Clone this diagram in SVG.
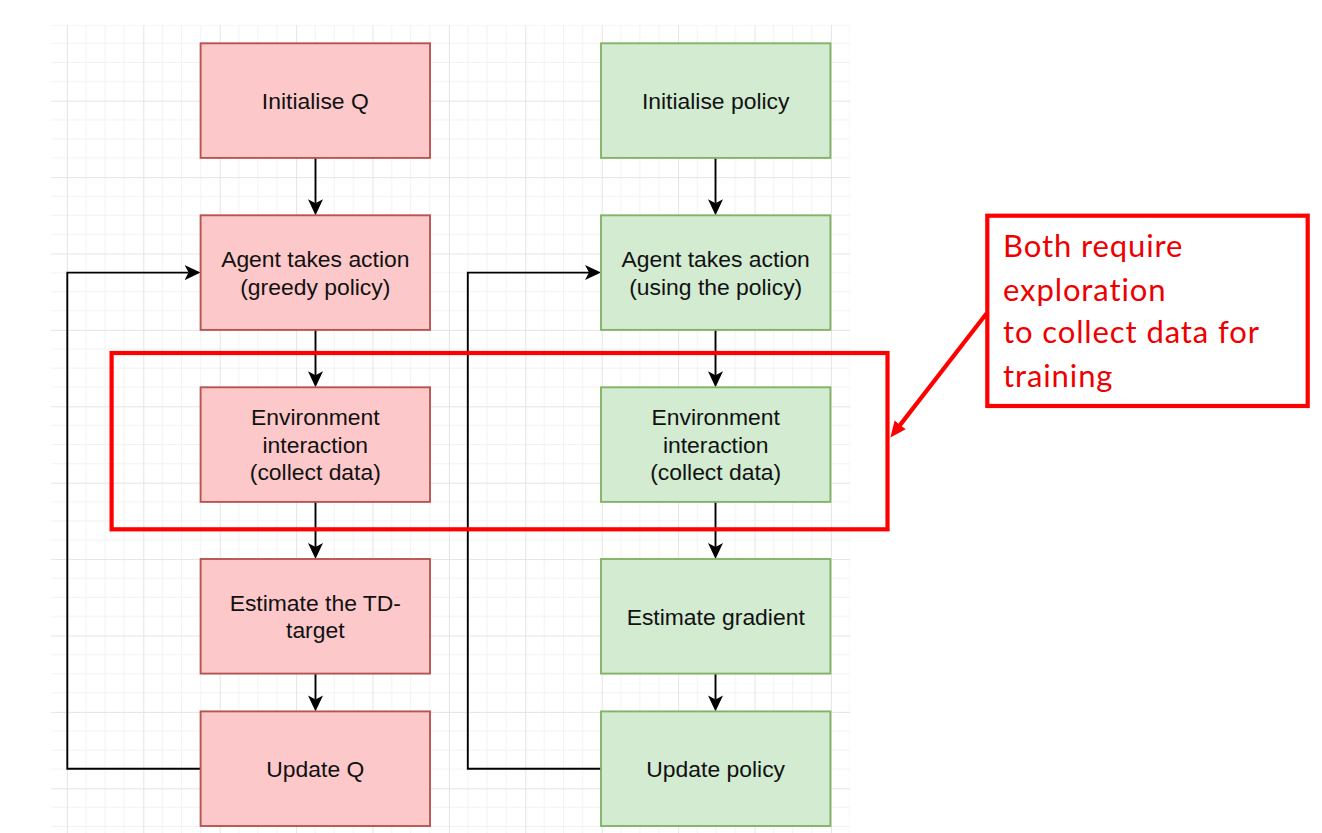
<svg xmlns="http://www.w3.org/2000/svg" width="1322" height="833" viewBox="0 0 1322 833">
  <style>
    .red rect { fill: #fcc8c9; stroke: #b85450; stroke-width: 1.9; }
    .green rect { fill: #d2ebd1; stroke: #82b366; stroke-width: 1.9; }
    .node text { font-family: "Liberation Sans", Arial, sans-serif; font-size: 22.9px; fill: #111111; text-anchor: middle; }
    .conn { fill: none; stroke: #000000; stroke-width: 1.9; }
    .note { fill: none; stroke: #ff0000; stroke-width: 4.2; }
    .note-text { font-family: Lato, "Noto Sans", sans-serif; font-size: 31px; letter-spacing: 0.9px; fill: #ee0000; }
  </style>
  <defs>
    <pattern id="grid" x="143.3" y="100.7" width="76.4" height="76.4" patternUnits="userSpaceOnUse">
      <path d="M19.1,0 V76.4 M38.2,0 V76.4 M57.3,0 V76.4 M0,19.1 H76.4 M0,38.2 H76.4 M0,57.3 H76.4" stroke="#f2f2f2" stroke-width="1" fill="none"/>
      <path d="M0.5,0 V76.4 M0,0.5 H76.4" stroke="#e4e4e4" stroke-width="1" fill="none"/>
    </pattern>
    <marker id="arrow" viewBox="0 0 16 16" refX="4" refY="8" markerWidth="16" markerHeight="16" markerUnits="userSpaceOnUse" orient="auto">
      <path d="M0,0.5 L16,8 L0,15.5 L4,8 Z" fill="#000000"/>
    </marker>
    <marker id="redarrow" viewBox="0 0 16 16" refX="6" refY="8" markerWidth="16" markerHeight="16" markerUnits="userSpaceOnUse" orient="auto">
      <path d="M0,1 L16,8 L0,15 Z" fill="#ff0000"/>
    </marker>
  </defs>

  <rect x="0" y="0" width="1322" height="833" fill="#ffffff"/>
  <rect id="grid-bg" x="51" y="25" width="799" height="808" fill="url(#grid)"/>

  <g id="connectors">
    <path class="conn" d="M315.5,158 V203.3" marker-end="url(#arrow)"/>
    <path class="conn" d="M315.5,330 V375.3" marker-end="url(#arrow)"/>
    <path class="conn" d="M315.5,502 V547" marker-end="url(#arrow)"/>
    <path class="conn" d="M315.5,673.6 V699.4" marker-end="url(#arrow)"/>
    <path class="conn" d="M715.5,158 V203.3" marker-end="url(#arrow)"/>
    <path class="conn" d="M715.5,330 V375.3" marker-end="url(#arrow)"/>
    <path class="conn" d="M715.5,502 V547" marker-end="url(#arrow)"/>
    <path class="conn" d="M715.5,673.6 V699.4" marker-end="url(#arrow)"/>
    <path class="conn" d="M200.6,768.7 H67.3 V272.6 H188.6" marker-end="url(#arrow)"/>
    <path class="conn" d="M601,768.7 H467.8 V272.6 H589" marker-end="url(#arrow)"/>
  </g>

  <g id="q-init" class="node red">
    <rect x="200.6" y="43.3" width="229.4" height="114.6"/>
    <text x="315.3" y="108.8">Initialise Q</text>
  </g>
  <g id="q-action" class="node red">
    <rect x="200.6" y="215.3" width="229.4" height="114.6"/>
    <text x="315.3" y="267">Agent takes action</text>
    <text x="315.3" y="294.5">(greedy policy)</text>
  </g>
  <g id="q-env" class="node red">
    <rect x="200.6" y="387.3" width="229.4" height="114.6"/>
    <text x="315.3" y="425.3">Environment</text>
    <text x="315.3" y="452.8">interaction</text>
    <text x="315.3" y="480.3">(collect data)</text>
  </g>
  <g id="q-td" class="node red">
    <rect x="200.6" y="559" width="229.4" height="114.6"/>
    <text x="315.3" y="610.7">Estimate the TD-</text>
    <text x="315.3" y="638.2">target</text>
  </g>
  <g id="q-update" class="node red">
    <rect x="200.6" y="711.4" width="229.4" height="114.6"/>
    <text x="315.3" y="776.9">Update Q</text>
  </g>

  <g id="p-init" class="node green">
    <rect x="601" y="43.3" width="229.4" height="114.6"/>
    <text x="715.7" y="108.8">Initialise policy</text>
  </g>
  <g id="p-action" class="node green">
    <rect x="601" y="215.3" width="229.4" height="114.6"/>
    <text x="715.7" y="267">Agent takes action</text>
    <text x="715.7" y="294.5">(using the policy)</text>
  </g>
  <g id="p-env" class="node green">
    <rect x="601" y="387.3" width="229.4" height="114.6"/>
    <text x="715.7" y="425.3">Environment</text>
    <text x="715.7" y="452.8">interaction</text>
    <text x="715.7" y="480.3">(collect data)</text>
  </g>
  <g id="p-grad" class="node green">
    <rect x="601" y="559" width="229.4" height="114.6"/>
    <text x="715.7" y="624.5">Estimate gradient</text>
  </g>
  <g id="p-update" class="node green">
    <rect x="601" y="711.4" width="229.4" height="114.6"/>
    <text x="715.7" y="776.9">Update policy</text>
  </g>

  <g id="highlight">
    <rect class="note" x="111.6" y="353" width="775.9" height="176.3"/>
  </g>

  <g id="callout">
    <rect class="note" x="987.3" y="215.7" width="320.4" height="190.3"/>
    <path class="note" d="M986.7,313.3 L896.5,429.6" marker-end="url(#redarrow)"/>
    <text class="note-text" x="1003" y="257.3">Both require</text>
    <text class="note-text" x="1003" y="300.5">exploration</text>
    <text class="note-text" x="1003" y="343.3">to collect data for</text>
    <text class="note-text" x="1003" y="386.5">training</text>
  </g>
</svg>
